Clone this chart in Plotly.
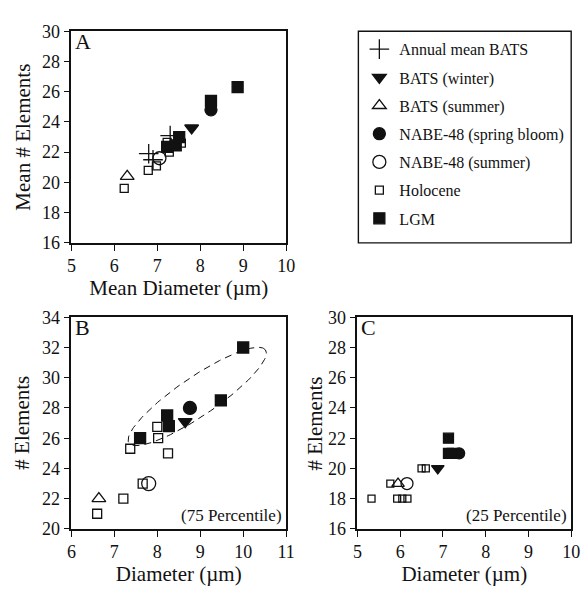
import numpy as np
import plotly.graph_objects as go

# ---- Panel A: mean diameter vs mean number of elements ----
a_annual_x = [6.8, 6.9, 7.3]
a_annual_y = [21.9, 21.5, 23.1]
a_winter_x = [7.8]
a_winter_y = [23.6]
a_summer_x = [6.3]
a_summer_y = [20.4]
a_spring_x = [8.25]
a_spring_y = [24.8]
a_nsummer_x = [7.05]
a_nsummer_y = [21.6]
a_holo_x = [6.23, 6.79, 6.98, 7.28, 7.23, 7.56]
a_holo_y = [19.6, 20.8, 21.1, 22.0, 22.65, 22.6]
a_lgm_x = [7.23, 7.43, 7.51, 8.25, 8.87]
a_lgm_y = [22.35, 22.45, 23.0, 25.4, 26.3]

# ---- Panel B: 75th percentile ----
b_winter_x = [8.65]
b_winter_y = [27.1]
b_summer_x = [6.64]
b_summer_y = [22.0]
b_spring_x = [8.76]
b_spring_y = [28.0]
b_nsummer_x = [7.8]
b_nsummer_y = [23.0]
b_holo_x = [6.6, 7.21, 7.66, 7.37, 8.0, 8.02, 8.25]
b_holo_y = [21.0, 22.0, 23.0, 25.3, 26.75, 26.0, 25.0]
b_lgm_x = [7.6, 8.23, 8.27, 9.48, 10.0]
b_lgm_y = [26.0, 27.5, 26.8, 28.5, 32.0]

# ---- Panel C: 25th percentile ----
c_winter_x = [6.88]
c_winter_y = [20.0]
c_summer_x = [5.95]
c_summer_y = [19.0]
c_spring_x = [7.38]
c_spring_y = [21.0]
c_nsummer_x = [6.16]
c_nsummer_y = [19.0]
c_holo_x = [5.33, 5.77, 5.93, 6.05, 6.17, 6.5, 6.6]
c_holo_y = [18.0, 19.0, 18.0, 18.0, 18.0, 20.0, 20.0]
c_lgm_x = [7.13, 7.13, 7.22]
c_lgm_y = [22.0, 21.0, 21.0]

series_names = ["Annual mean BATS", "BATS (winter)", "BATS (summer)",
                "NABE-48 (spring bloom)", "NABE-48 (summer)", "Holocene", "LGM"]

FONT = "Liberation Serif"
BLACK = "#111111"

fig = go.Figure()

# marker styles: symbol, per-panel size
styles = {
    "Annual mean BATS": ("cross-thin", {"a": 14}),
    "BATS (winter)": ("triangle-down", {"a": 12, "b": 12, "c": 11}),
    "BATS (summer)": ("triangle-up-open", {"a": 12, "b": 12, "c": 11}),
    "NABE-48 (spring bloom)": ("circle", {"a": 12, "b": 13, "c": 11}),
    "NABE-48 (summer)": ("circle-open", {"a": 13, "b": 14, "c": 12}),
    "Holocene": ("square-open", {"a": 8, "b": 9, "c": 7}),
    "LGM": ("square", {"a": 11, "b": 11, "c": 10}),
}

panels = {
    "a": ("x", "y", {
        "Annual mean BATS": (a_annual_x, a_annual_y),
        "BATS (winter)": (a_winter_x, a_winter_y),
        "BATS (summer)": (a_summer_x, a_summer_y),
        "NABE-48 (spring bloom)": (a_spring_x, a_spring_y),
        "NABE-48 (summer)": (a_nsummer_x, a_nsummer_y),
        "Holocene": (a_holo_x, a_holo_y),
        "LGM": (a_lgm_x, a_lgm_y),
    }),
    "b": ("x2", "y2", {
        "BATS (winter)": (b_winter_x, b_winter_y),
        "BATS (summer)": (b_summer_x, b_summer_y),
        "NABE-48 (spring bloom)": (b_spring_x, b_spring_y),
        "NABE-48 (summer)": (b_nsummer_x, b_nsummer_y),
        "Holocene": (b_holo_x, b_holo_y),
        "LGM": (b_lgm_x, b_lgm_y),
    }),
    "c": ("x3", "y3", {
        "BATS (winter)": (c_winter_x, c_winter_y),
        "BATS (summer)": (c_summer_x, c_summer_y),
        "NABE-48 (spring bloom)": (c_spring_x, c_spring_y),
        "NABE-48 (summer)": (c_nsummer_x, c_nsummer_y),
        "Holocene": (c_holo_x, c_holo_y),
        "LGM": (c_lgm_x, c_lgm_y),
    }),
}

# dashed ellipse around the LGM cluster in panel B (defined in pixel-aspect units)
ell_cx, ell_cy = 8.93, 28.76
ell_a_px, ell_b_px, ell_deg = 85.0, 20.0, 34.5
px_per_x, px_per_y = 44.1, 15.64
t = np.linspace(0, 2 * np.pi, 181)
th = np.deg2rad(ell_deg)
dx = ell_a_px * np.cos(t) * np.cos(th) - ell_b_px * np.sin(t) * np.sin(th)
dy = ell_a_px * np.cos(t) * np.sin(th) + ell_b_px * np.sin(t) * np.cos(th)
fig.add_trace(go.Scatter(
    x=ell_cx + dx / px_per_x, y=ell_cy + dy / px_per_y, mode="lines",
    line=dict(color=BLACK, width=1, dash="7px,5px"),
    xaxis="x2", yaxis="y2", showlegend=False, hoverinfo="skip"))

for key, (xa, ya, data) in panels.items():
    for i, name in enumerate(series_names):
        if name not in data:
            continue
        xs, ys = data[name]
        sym, sizes = styles[name]
        fig.add_trace(go.Scatter(
            x=xs, y=ys, mode="markers", name=name,
            xaxis=xa, yaxis=ya,
            legendgroup=name, showlegend=(key == "a"),
            marker=dict(symbol=sym, size=sizes[key], color=BLACK,
                        line=dict(color=BLACK, width=1.3)),
        ))

W, H = 588, 593


def xdom(x0, x1):
    return [x0 / W, x1 / W]


def ydom(top, bottom):
    return [1 - bottom / H, 1 - top / H]


axis_common = dict(
    showgrid=False, zeroline=False, showline=True, linecolor=BLACK, linewidth=1.6,
    mirror=True, ticks="outside", ticklen=6, tickwidth=1.4, tickcolor=BLACK,
    tickfont=dict(family=FONT, size=18, color=BLACK),
    title_font=dict(family=FONT, size=21, color=BLACK),
)

fig.update_layout(
    width=W, height=H, margin=dict(l=0, r=0, t=0, b=0),
    paper_bgcolor="white", plot_bgcolor="white",
    font=dict(family=FONT, color=BLACK),
    xaxis=dict(domain=xdom(68, 288), range=[5, 10], dtick=1, anchor="y",
               title=dict(text="Mean Diameter (µm)", standoff=0), **axis_common),
    yaxis=dict(domain=ydom(22, 241), range=[16, 30], dtick=2, anchor="x", **axis_common),
    xaxis2=dict(domain=xdom(68, 288), range=[6, 11], dtick=1, anchor="y2",
                title=dict(text="Diameter (µm)", standoff=2), **axis_common),
    yaxis2=dict(domain=ydom(318, 537), range=[20, 34], dtick=2, anchor="x2", **axis_common),
    xaxis3=dict(domain=xdom(361, 580), range=[5, 10], dtick=1, anchor="y3",
                title=dict(text="Diameter (µm)", standoff=2), **axis_common),
    yaxis3=dict(domain=ydom(318, 537), range=[16, 30], dtick=2, anchor="x3", **axis_common),
    legend=dict(x=363 / W, y=1 - 23 / H, xanchor="left", yanchor="top",
                font=dict(family=FONT, size=16, color=BLACK),
                bgcolor="rgba(0,0,0,0)", borderwidth=0,
                tracegroupgap=4.4, itemwidth=30),
    showlegend=True,
)

# legend frame
fig.add_shape(type="rect", xref="paper", yref="paper",
              x0=362 / W, x1=580 / W, y0=1 - 241 / H, y1=1 - 22 / H,
              line=dict(color=BLACK, width=1.4))

# vertical axis titles
for txt, xpix, ytop, ybot in [("Mean # Elements", 18, 22, 241),
                              ("# Elements", 18, 318, 537),
                              ("# Elements", 318, 318, 537)]:
    fig.add_annotation(text=txt, xref="paper", yref="paper",
                       x=xpix / W, y=1 - (ytop + ybot) / 2 / H,
                       xanchor="center", yanchor="middle", textangle=-90,
                       showarrow=False, font=dict(family=FONT, size=21, color=BLACK))

# panel letters and percentile notes
for txt, xr, yr in [("A", "x domain", "y domain"),
                    ("B", "x2 domain", "y2 domain"),
                    ("C", "x3 domain", "y3 domain")]:
    fig.add_annotation(text=txt, xref=xr, yref=yr, x=0.008, y=1.02,
                       xanchor="left", yanchor="top", showarrow=False,
                       font=dict(family=FONT, size=22, color=BLACK))

for txt, xr, yr in [("(75 Percentile)", "x2 domain", "y2 domain"),
                    ("(25 Percentile)", "x3 domain", "y3 domain")]:
    fig.add_annotation(text=txt, xref=xr, yref=yr, x=0.99, y=0.01,
                       xanchor="right", yanchor="bottom", showarrow=False,
                       font=dict(family=FONT, size=17, color=BLACK))

fig.write_html("out.html")
